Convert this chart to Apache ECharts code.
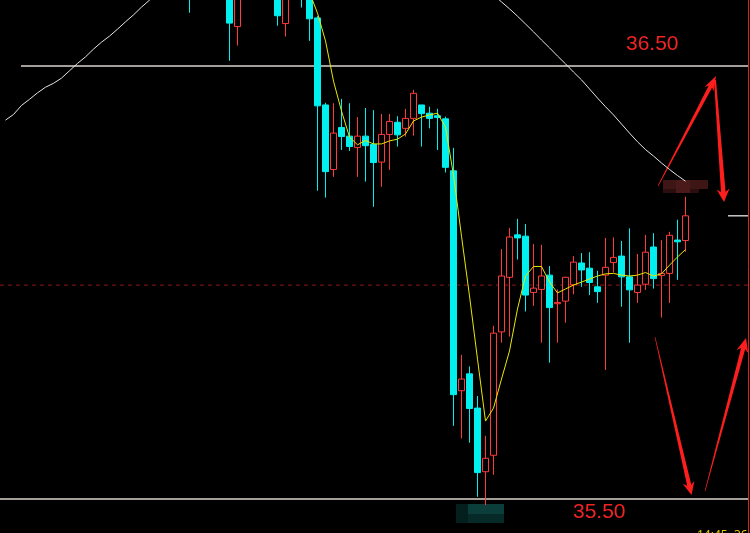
<!DOCTYPE html>
<html><head><meta charset="utf-8">
<script src="https://cdn.jsdelivr.net/npm/echarts@6/dist/echarts.min.js"></script>
<style>html,body{margin:0;padding:0;background:#000;}#c{width:750px;height:533px;}</style>
</head><body><div id="c"></div>
<script>
// ---- data (prices) ----
const categories = Array.from({length: 93}, (_, i) => 'K' + (i + 1));
const opens = [36.71,36.74,36.72,36.76,36.79,36.77,36.80,36.84,36.82,36.86,36.90,36.88,36.92,36.95,36.91,36.94,36.90,36.86,36.89,36.84,36.80,36.83,36.78,36.74,36.68,36.72,36.76,36.73,36.77,36.591,36.70,36.74,36.71,36.75,36.73,36.598,36.70,36.73,36.68,36.611,36.410,36.261,36.358,36.338,36.312,36.338,36.319,36.278,36.342,36.370,36.356,36.379,36.410,36.391,36.385,36.378,36.258,35.750,35.789,35.710,35.563,35.601,35.886,36.012,36.110,36.107,35.977,35.984,36.017,35.951,35.957,35.995,36.045,36.033,35.990,36.017,36.046,36.061,36.013,35.977,35.996,36.082,36.016,36.021,36.098,36.097];
const closes = [36.74,36.72,36.76,36.79,36.77,36.80,36.84,36.82,36.86,36.90,36.88,36.92,36.95,36.91,36.94,36.90,36.86,36.89,36.84,36.80,36.83,36.78,36.74,36.68,36.72,36.76,36.73,36.77,36.599,36.70,36.74,36.71,36.75,36.73,36.616,36.70,36.73,36.68,36.609,36.408,36.256,36.345,36.337,36.314,36.338,36.316,36.277,36.342,36.372,36.341,36.379,36.437,36.390,36.379,36.381,36.266,35.741,35.777,35.709,35.561,35.594,35.883,36.015,36.105,36.103,35.971,35.987,36.015,35.942,35.954,36.012,36.047,36.029,36.000,35.979,36.035,36.058,36.013,35.983,35.994,36.070,36.009,36.021,36.109,36.094,36.154];
const lows = [36.69,36.70,36.70,36.74,36.75,36.75,36.78,36.79,36.80,36.84,36.85,36.86,36.89,36.88,36.88,36.86,36.82,36.83,36.80,36.76,36.77,36.73,36.70,36.623,36.67,36.70,36.70,36.71,36.512,36.547,36.68,36.68,36.69,36.70,36.593,36.568,36.68,36.635,36.558,36.212,36.196,36.244,36.306,36.304,36.244,36.233,36.175,36.221,36.260,36.314,36.337,36.339,36.314,36.356,36.306,36.254,35.669,35.640,35.630,35.505,35.486,35.556,35.861,35.875,36.053,35.933,35.946,35.861,35.815,35.861,35.907,35.973,35.990,35.971,35.953,35.798,36.023,35.944,35.861,35.953,35.983,35.986,35.919,35.953,36.006,36.071];
const highs = [36.76,36.77,36.78,36.81,36.82,36.83,36.86,36.87,36.89,36.92,36.93,36.95,36.97,36.98,36.96,36.96,36.92,36.91,36.91,36.86,36.85,36.85,36.80,36.77,36.75,36.78,36.79,36.80,36.79,36.73,36.77,36.76,36.78,36.77,36.75,36.72,36.75,36.75,36.70,36.615,36.415,36.414,36.424,36.414,36.382,36.403,36.398,36.389,36.389,36.384,36.401,36.445,36.410,36.406,36.401,36.383,36.311,35.833,35.806,35.738,35.646,35.900,36.077,36.126,36.147,36.135,36.089,36.087,36.038,35.984,36.013,36.061,36.068,36.070,36.027,36.103,36.104,36.096,36.125,36.066,36.110,36.114,36.098,36.117,36.145,36.198];
const maLong = [36.375,36.388,36.409,36.423,36.438,36.451,36.460,36.472,36.489,36.506,36.521,36.539,36.555,36.569,36.585,36.602,36.618,36.636,36.652,36.668,36.684,36.699,36.714,36.728,36.741,36.753,36.764,36.774,36.783,36.791,36.798,36.804,36.809,36.813,36.816,36.818,36.819,36.819,36.818,36.816,36.813,36.809,36.804,36.798,36.791,36.784,36.777,36.770,36.763,36.756,36.750,36.744,36.738,36.731,36.724,36.716,36.708,36.700,36.691,36.682,36.673,36.664,36.648,36.632,36.615,36.597,36.579,36.560,36.542,36.523,36.505,36.486,36.468,36.447,36.426,36.406,36.387,36.366,36.345,36.325,36.307,36.292,36.276,36.261,36.247,36.234];
const maShort = [36.72,36.73,36.73,36.75,36.76,36.77,36.79,36.80,36.82,36.84,36.86,36.88,36.90,36.91,36.92,36.92,36.91,36.90,36.88,36.86,36.84,36.82,36.80,36.77,36.75,36.74,36.73,36.74,36.72,36.72,36.72,36.71,36.73,36.73,36.71,36.70,36.72,36.70,36.67,36.622,36.558,36.465,36.396,36.336,36.318,36.328,36.320,36.320,36.327,36.331,36.343,36.373,36.382,36.387,36.391,36.359,36.248,36.107,35.969,35.823,35.680,35.710,35.777,35.842,35.939,36.015,36.037,36.037,36.001,35.976,35.985,35.994,36.001,36.008,36.015,36.020,36.021,36.017,36.015,36.017,36.023,36.015,36.020,36.040,36.059,36.076];
const levelHigh = 36.50, levelLow = 35.50, prevClose = 35.994;
const levelLabels = ['36.50', '35.50'];
const footerText = '14:45  36.15';
const yMin = 35.4215, yMax = 36.6524;

const candleData = opens.map((o, i) => [o, closes[i], lows[i], highs[i]]);

const chart = echarts.init(document.getElementById('c'), null, {renderer: 'canvas'});
chart.setOption({
  backgroundColor: '#000',
  animation: false,
  grid: {left: 1.5, right: 4.5, top: 0, bottom: 0, containLabel: false},
  xAxis: {type: 'category', data: categories, boundaryGap: true,
    axisLine: {show: false}, axisTick: {show: false}, axisLabel: {show: false}, splitLine: {show: false}},
  yAxis: {type: 'value', min: yMin, max: yMax, scale: true,
    axisLine: {show: false}, axisTick: {show: false}, axisLabel: {show: false}, splitLine: {show: false}},
  series: [
    {type: 'candlestick', data: candleData, barWidth: 6, clip: true,
      itemStyle: {color: '#000', color0: '#00f0f0', borderColor: '#ff3a3a', borderColor0: '#00f0f0', borderWidth: 1}},
    {type: 'line', data: maLong, showSymbol: false, symbol: 'none', clip: true, silent: true,
      lineStyle: {color: '#e6e6e6', width: 1}},
    {type: 'line', data: maShort, showSymbol: false, symbol: 'none', clip: true, silent: true,
      lineStyle: {color: '#e8e800', width: 1}}
  ]
});

function arrowPts(tx, ty, px, py, headLen, headHalf, tailHalf, neckHalf) {
  const dx = px - tx, dy = py - ty, L = Math.hypot(dx, dy), ux = dx / L, uy = dy / L, nx = -uy, ny = ux;
  const bx = px - ux * headLen, by = py - uy * headLen;
  const cx = px - ux * (headLen - 3), cy = py - uy * (headLen - 3);
  return [[tx + nx * tailHalf, ty + ny * tailHalf], [cx + nx * neckHalf, cy + ny * neckHalf], [bx + nx * headHalf, by + ny * headHalf],
    [px, py], [bx - nx * headHalf, by - ny * headHalf], [cx - nx * neckHalf, cy - ny * neckHalf], [tx - nx * tailHalf, ty - ny * tailHalf]];
}
const yHi = chart.convertToPixel({yAxisIndex: 0}, levelHigh);
const yLo = chart.convertToPixel({yAxisIndex: 0}, levelLow);
const yPc = chart.convertToPixel({yAxisIndex: 0}, prevClose);
const yLast = chart.convertToPixel({yAxisIndex: 0}, closes[closes.length - 1]);
const red = '#ff1e1e';
chart.setOption({
  graphic: [
    {type: 'line', shape: {x1: 21, y1: yHi, x2: 748, y2: yHi}, style: {stroke: '#dcd5cd', lineWidth: 1.3}, silent: true},
    {type: 'line', shape: {x1: 0, y1: yLo, x2: 748, y2: yLo}, style: {stroke: '#dcd5cd', lineWidth: 1.3}, silent: true},
    {type: 'line', shape: {x1: 0, y1: yPc, x2: 748, y2: yPc}, style: {stroke: '#8a1a1a', lineWidth: 1, lineDash: [4, 4]}, silent: true},
    {type: 'line', shape: {x1: 748.5, y1: 0, x2: 748.5, y2: 533}, style: {stroke: '#e02020', lineWidth: 1}, silent: true},
    {type: 'line', shape: {x1: 728, y1: yLast, x2: 748, y2: yLast}, style: {stroke: '#e8e8e8', lineWidth: 1.3}, silent: true},
    {type: 'text', x: 626, y: 44, style: {text: levelLabels[0], fill: '#f02424', font: '21px "Liberation Sans", Arial, sans-serif', verticalAlign: 'middle', align: 'left'}, silent: true},
    {type: 'text', x: 573, y: 512, style: {text: levelLabels[1], fill: '#f02424', font: '21px "Liberation Sans", Arial, sans-serif', verticalAlign: 'middle', align: 'left'}, silent: true},
    {type: 'text', x: 697, y: 529.5, style: {text: footerText, fill: '#e6c800', font: '12px "Noto Sans", sans-serif', verticalAlign: 'top', align: 'left'}, silent: true},
    // blurred tags
    {type: 'rect', shape: {x: 663, y: 180, width: 45, height: 9}, style: {fill: '#3e1616'}, silent: true},
    {type: 'rect', shape: {x: 663, y: 189, width: 36, height: 4}, style: {fill: '#2c0e0e'}, silent: true},
    {type: 'rect', shape: {x: 676, y: 180, width: 14, height: 13}, style: {fill: '#4a1a1a'}, silent: true},
    {type: 'rect', shape: {x: 456, y: 504, width: 12, height: 19}, style: {fill: '#03201e'}, silent: true},
    {type: 'rect', shape: {x: 468, y: 504, width: 36, height: 10}, style: {fill: '#0b3e3a'}, silent: true},
    {type: 'rect', shape: {x: 468, y: 514, width: 36, height: 9}, style: {fill: '#052a27'}, silent: true},
    // arrows
    {type: 'polygon', shape: {points: arrowPts(658, 186, 716, 76, 15, 5, 0.3, 2.0)}, style: {fill: red}, silent: true},
    {type: 'polygon', shape: {points: arrowPts(715, 80, 724, 202, 13, 6.5, 1.0, 2.3)}, style: {fill: red}, silent: true},
    {type: 'polygon', shape: {points: arrowPts(655, 337, 691.5, 495, 13, 6, 0.3, 2.1)}, style: {fill: red}, silent: true},
    {type: 'polygon', shape: {points: arrowPts(705, 491, 746, 338, 14, 6, 0.3, 2.1)}, style: {fill: red}, silent: true}
  ]
});
</script>
</body></html>
